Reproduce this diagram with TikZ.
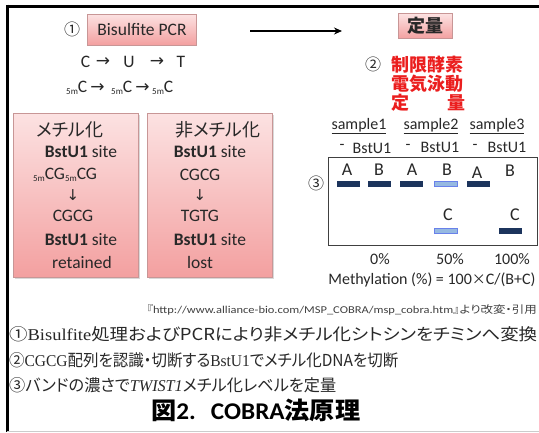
\documentclass[tikz,border=0pt]{standalone}
\usepackage{fontspec}
\usetikzlibrary{arrows.meta}
\setmainfont{Carlito}
\newfontfamily\jp[RawFeature=+palt]{Noto Sans CJK JP}
\newfontfamily\serif{Liberation Serif}
\newfontfamily\sym{DejaVu Sans}
\definecolor{pinktop}{RGB}{252,226,226}
\definecolor{pinkbot}{RGB}{243,160,160}
\definecolor{pinkedge}{RGB}{200,150,150}
\definecolor{navy}{RGB}{28,52,92}
\definecolor{lightband}{RGB}{150,185,225}
\definecolor{redtxt}{RGB}{235,30,30}
\definecolor{txt}{RGB}{40,40,40}
\newcommand{\fm}{\raisebox{-1.5pt}{\fontsize{9}{9}\selectfont 5m}}
\newcommand{\fs}[1]{\fontsize{#1}{#1}\selectfont}
\newcommand{\ra}{{\sym\fs{17}→}}
\begin{document}
\begin{tikzpicture}[x=1pt,y=-1pt,
  pinkbox/.style={draw=pinkedge, top color=pinktop, bottom color=pinkbot, inner sep=0pt},
  txtnode/.style={text=txt, inner sep=0pt},
  boxtxt/.style={text=txt, inner sep=0pt, font=\fs{17.5}},
  gtxt/.style={text=txt, inner sep=0pt, font=\fs{16}},
  glab/.style={text=txt, inner sep=0pt, font=\fs{18}},
  band/.style={fill=navy, minimum width=23, minimum height=6, inner sep=0pt},
  lband/.style={fill=lightband, draw=lightband!70!blue, line width=0.6pt, minimum width=23, minimum height=5.5, inner sep=0pt}]
\useasboundingbox (0,0) rectangle (539,432);
\fill[white] (0,0) rectangle (539,432);
\draw[line width=3pt] (7.5,6) -- (539,6);
\draw[line width=3pt] (7.5,4.5) -- (7.5,432);
\draw[black!20, line width=1pt] (7,431.5) -- (539,431.5);

% step 1
\node[txtnode] (c1) at (72,29) {\jp\fs{16}①};
\node[pinkbox, minimum width=109, minimum height=31] (bpcr) at (142,29.5) {\fs{17.5}\color{txt}Bisulfite PCR};
\node[pinkbox, minimum width=54, minimum height=25] (teiryo) at (425,26) {\jp\bfseries\fs{18}\color{txt}定量};
\coordinate (ar1) at (250,31);
\coordinate (ar2) at (342,31);
\draw[line width=1.6pt, -{Stealth[length=8pt,width=7pt]}] (ar1) -- (ar2);

\node[boxtxt] (cc) at (85.5,62) {C};
\node[txtnode] (a1) at (103,62) {\ra};
\node[boxtxt] (cu) at (129,62) {U};
\node[txtnode] (a2) at (157,62) {\ra};
\node[boxtxt] (ct) at (181,62) {T};
\node[boxtxt, anchor=west] (m1c) at (66,88) {\fm C};
\node[txtnode] (a3) at (97.5,88) {\ra};
\node[boxtxt, anchor=west] (m2c) at (111,88) {\fm C};
\node[txtnode] (a4) at (142.5,88) {\ra};
\node[boxtxt, anchor=west] (m3c) at (152,88) {\fm C};

% step 2
\node[txtnode] (c2) at (373,64) {\jp\fs{16}②};
\node[inner sep=0pt, text=redtxt, anchor=west] (r1) at (391,65) {\jp\bfseries\fs{18}制限酵素};
\node[inner sep=0pt, text=redtxt, anchor=west] (r2) at (391,84) {\jp\bfseries\fs{18}電気泳動};
\node[inner sep=0pt, text=redtxt, anchor=west] (r3) at (391,103) {\jp\bfseries\fs{18}定\hspace{2.1em}量};

% methylation boxes
\fill[black!15] (15,115) rectangle (140,279);
\fill[black!15] (149,115) rectangle (274,279);
\node[pinkbox, minimum width=125, minimum height=164] (mbox) at (75.5,195) {};
\node[pinkbox, minimum width=125, minimum height=164] (ubox) at (209.5,195) {};

\node[txtnode] (m1) at (70,130) {\jp\fs{18}メチル化};
\node[boxtxt] (m2) at (81,152) {\textbf{BstU1} site};
\node[boxtxt] (m3) at (65,175) {\fm CG\fm CG};
\node[txtnode] (m4) at (73,195) {\sym\fs{15}↓};
\node[boxtxt] (m5) at (73,216) {CGCG};
\node[boxtxt] (m6) at (81,240) {\textbf{BstU1} site};
\node[boxtxt] (m7) at (82,262) {retained};

\node[txtnode] (u1) at (218,130) {\jp\fs{18}非メチル化};
\node[boxtxt] (u2) at (210,152) {\textbf{BstU1} site};
\node[boxtxt] (u3) at (200,175) {CGCG};
\node[txtnode] (u4) at (200,195) {\sym\fs{15}↓};
\node[boxtxt] (u5) at (200,216) {TGTG};
\node[boxtxt] (u6) at (210,240) {\textbf{BstU1} site};
\node[boxtxt] (u7) at (200,262) {lost};

% gel
\node[gtxt] (s1) at (359,126) {\underline{sample1}};
\node[gtxt] (s2) at (431,126) {\underline{sample2}};
\node[gtxt] (s3) at (497,126) {\underline{sample3}};
\node[gtxt] (d1) at (342,147) {-};
\node[gtxt] (e1) at (372,148) {BstU1};
\node[gtxt] (d2) at (408,147) {-};
\node[gtxt] (e2) at (440,147) {BstU1};
\node[gtxt] (d3) at (475,147) {-};
\node[gtxt] (e3) at (507,147) {BstU1};

\node[draw=black!75, line width=0.8pt, minimum width=209, minimum height=88, inner sep=0pt] (gel) at (432.5,201) {};
\node[txtnode] (c3) at (316,183) {\jp\fs{16}③};

\node[glab] (la1) at (347,170) {A};
\node[glab] (lb1) at (379,170) {B};
\node[glab] (la2) at (412,170) {A};
\node[glab] (lb2) at (447,170) {B};
\node[glab] (la3) at (477,173) {A};
\node[glab] (lb3) at (510,171) {B};
\node[band] (ba1) at (348,184) {};
\node[band] (bb1) at (379.5,184) {};
\node[band] (ba2) at (411,184) {};
\node[lband] (bb2) at (446,184) {};
\node[band] (ba3) at (478.5,184) {};
\node[glab] (lc2) at (448,215) {C};
\node[glab] (lc3) at (515,215) {C};
\node[lband] (bc2) at (446,231) {};
\node[band] (bc3) at (510,231) {};

\node[gtxt] (p0) at (380,259) {0\%};
\node[gtxt] (p50) at (450,259) {50\%};
\node[gtxt] (p100) at (512,259) {100\%};
\node[gtxt] (meth) at (432,280) {Methylation (\%) = 100{\jp\fs{14}×}C/(B+C)};

% bottom text
\node[txtnode, anchor=east, text=black!75] (cite) at (537,310) {\resizebox{390pt}{\height}{\jp\fs{10.5}『{\fontspec{Carlito}http://www.alliance-bio.com/MSP\_COBRA/msp\_cobra.htm}』より改変・引用}};
\node[txtnode, anchor=west] (l1) at (9,334) {\resizebox{528pt}{\height}{\jp\fs{16.5}①{\serif Bisulfite}処理およびPCRにより非メチル化シトシンをチミンへ変換}};
\node[txtnode, anchor=west] (l2) at (9,360) {\resizebox{389pt}{\height}{\jp\fs{16.5}②{\serif CGCG}配列を認識・切断する{\serif BstU1}でメチル化DNAを切断}};
\node[txtnode, anchor=west] (l3) at (9,385) {\resizebox{327pt}{\height}{\jp\fs{16.5}③バンドの濃さで{\serif\itshape TWIST1}メチル化レベルを定量}};
\node[inner sep=0pt, text=black, anchor=west] (title) at (151,410) {\resizebox{209pt}{\height}{\jp\bfseries\fs{24}図{\fontspec{Carlito}\bfseries 2.}\hspace{0.6em}{\fontspec{Carlito}\bfseries COBRA}法原理}};
\end{tikzpicture}
\end{document}
